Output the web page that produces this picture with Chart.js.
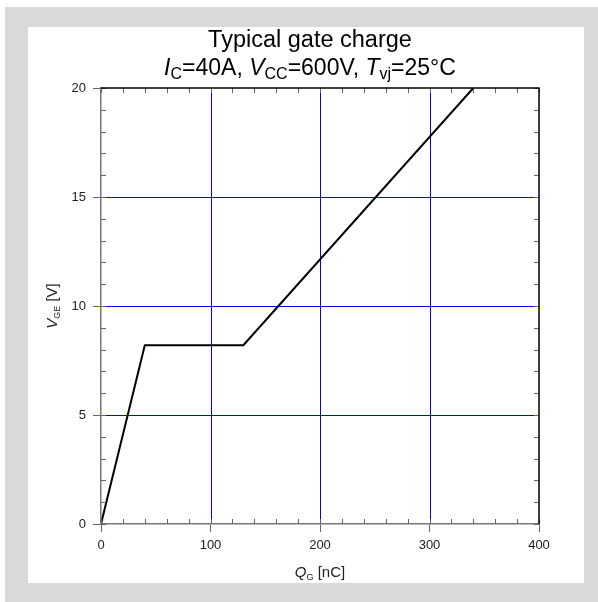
<!DOCTYPE html>
<html>
<head>
<meta charset="utf-8">
<script src="https://cdn.jsdelivr.net/npm/chart.js@4.4.1/dist/chart.umd.min.js"></script>
<style>
html, body { margin: 0; padding: 0; background: #fff; }
canvas { display: block; }
</style>
</head>
<body>
<canvas id="gateChart" width="598" height="602"></canvas>
<script>
// gate charge curve
const chargeNC = [0, 40, 130, 340];
const gateVoltage = [0, 8.2, 8.2, 20];
const xTickLabels = [0, 100, 200, 300, 400];
const yTickLabels = [0, 5, 10, 15, 20];

const FONT = "'Liberation Sans', Arial, sans-serif";

// draws text made of runs (italic letters, subscripts) centred on cx
function drawRich(ctx, parts, cx, baseline) {
    let total = 0;
    parts.forEach(p => {
        ctx.font = (p.italic ? "italic " : "") + p.size + "px " + FONT;
        p.w = ctx.measureText(p.t).width;
        total += p.w;
    });
    let x = cx - total / 2;
    parts.forEach(p => {
        ctx.font = (p.italic ? "italic " : "") + p.size + "px " + FONT;
        ctx.fillText(p.t, x, baseline + (p.dy || 0));
        x += p.w;
    });
}

const framePlugin = {
    id: "frame",
    beforeDraw(chart) {
        const ctx = chart.ctx;
        ctx.save();
        ctx.fillStyle = "#d9d9d9";
        ctx.fillRect(5, 7, 593, 595);
        ctx.fillStyle = "#ffffff";
        ctx.fillRect(28, 27, 556, 556);
        ctx.restore();
    }
};

// blue major grid lines inside the plot
const gridPlugin = {
    id: "majorGrid",
    beforeDatasetsDraw(chart) {
        const ctx = chart.ctx;
        const a = chart.chartArea;
        const xs = chart.scales.x;
        const ys = chart.scales.y;
        ctx.save();
        ctx.fillStyle = "#0000ff";
        xTickLabels.slice(1, -1).forEach(v => {
            const px = Math.round(xs.getPixelForValue(v));
            ctx.fillRect(px, a.top, 1, a.bottom - a.top);
        });
        yTickLabels.slice(1, -1).forEach(v => {
            const py = Math.round(ys.getPixelForValue(v));
            ctx.fillRect(a.left, py, a.right - a.left, 1);
        });
        ctx.restore();
    }
};

const decorPlugin = {
    id: "decor",
    afterDraw(chart) {
        const ctx = chart.ctx;
        const a = chart.chartArea;
        const xs = chart.scales.x;
        const ys = chart.scales.y;
        ctx.save();

        // inward minor ticks on all four sides
        ctx.fillStyle = "#666";
        xs.ticks.forEach(t => {
            const px = Math.round(xs.getPixelForValue(t.value));
            ctx.fillRect(px, a.bottom - 5, 1, 5);
            ctx.fillRect(px, a.top, 1, 5);
        });
        ys.ticks.forEach(t => {
            const py = Math.round(ys.getPixelForValue(t.value));
            ctx.fillRect(a.left, py, 5, 1);
            ctx.fillRect(a.right - 5, py, 5, 1);
        });

        // top and right frame
        ctx.strokeStyle = "#000";
        ctx.lineWidth = 1.5;
        ctx.beginPath();
        ctx.moveTo(a.left, a.top); ctx.lineTo(a.right, a.top); ctx.lineTo(a.right, a.bottom);
        ctx.stroke();

        // titles
        ctx.fillStyle = "#000";
        ctx.textAlign = "left";
        ctx.textBaseline = "alphabetic";
        drawRich(ctx, [{ t: "Typical gate charge", size: 23.5 }], 310, 47);
        drawRich(ctx, [
            { t: "I", size: 23, italic: true },
            { t: "C", size: 16, dy: 4 },
            { t: "=40A, ", size: 23 },
            { t: "V", size: 23, italic: true },
            { t: "CC", size: 16, dy: 4 },
            { t: "=600V, ", size: 23 },
            { t: "T", size: 23, italic: true },
            { t: "vj", size: 16, dy: 4 },
            { t: "=25\u00b0C", size: 23 }
        ], 310, 75);

        ctx.fillStyle = "#222";
        drawRich(ctx, [
            { t: "Q", size: 15, italic: true },
            { t: "G", size: 9, dy: 3 },
            { t: " [nC]", size: 15 }
        ], (a.left + a.right) / 2, 577);

        ctx.translate(57, (a.top + a.bottom) / 2);
        ctx.rotate(-Math.PI / 2);
        drawRich(ctx, [
            { t: "V", size: 15, italic: true },
            { t: "GE", size: 9, dy: 3 },
            { t: " [V]", size: 15 }
        ], 0, 0);

        ctx.restore();
    }
};

const ctx = document.getElementById("gateChart");

new Chart(ctx, {
    type: "scatter",
    data: {
        datasets: [{
            data: chargeNC.map((q, i) => ({ x: q, y: gateVoltage[i] })),
            showLine: true,
            borderColor: "#000",
            borderWidth: 2,
            pointRadius: 0,
            tension: 0
        }]
    },
    options: {
        responsive: false,
        animation: false,
        layout: {
            padding: { top: 88, right: 59, bottom: 38, left: 0 }
        },
        plugins: {
            legend: { display: false },
            tooltip: { enabled: false }
        },
        scales: {
            x: {
                type: "linear",
                min: 0,
                max: 400,
                afterFit(scale) { scale.height = 40; },
                ticks: {
                    stepSize: 20,
                    autoSkip: false,
                    maxRotation: 0,
                    padding: 6,
                    color: "#222",
                    font: { size: 13, family: FONT },
                    callback: v => xTickLabels.includes(v) ? v : ""
                },
                grid: {
                    drawOnChartArea: false,
                    tickColor: c => xTickLabels.includes(c.tick.value) ? "#666" : "rgba(0,0,0,0)",
                    tickLength: 8
                },
                border: { color: "#777", width: 1.5 }
            },
            y: {
                min: 0,
                max: 20,
                afterFit(scale) { scale.width = 101; },
                ticks: {
                    stepSize: 1,
                    autoSkip: false,
                    padding: 7,
                    color: "#222",
                    font: { size: 13, family: FONT },
                    callback: v => yTickLabels.includes(v) ? v : ""
                },
                grid: {
                    drawOnChartArea: false,
                    tickColor: c => yTickLabels.includes(c.tick.value) ? "#666" : "rgba(0,0,0,0)",
                    tickLength: 8
                },
                border: { color: "#777", width: 1.5 }
            }
        }
    },
    plugins: [framePlugin, gridPlugin, decorPlugin]
});
</script>
</body>
</html>
